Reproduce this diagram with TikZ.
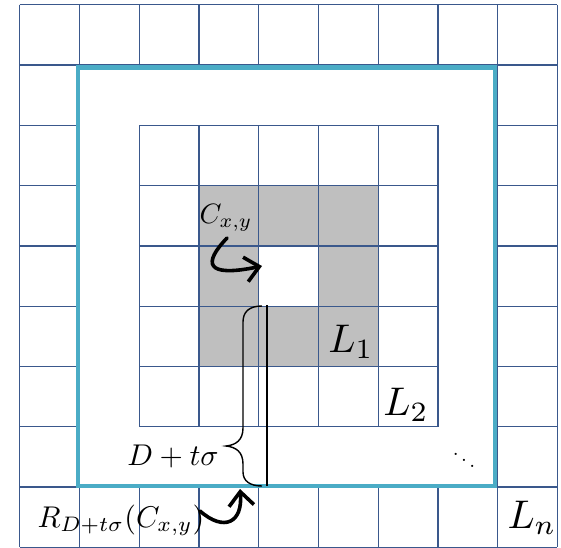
\documentclass[tikz,border=0pt]{standalone}
\usetikzlibrary{arrows.meta}
\definecolor{gridblue}{RGB}{58,88,140}
\definecolor{ringteal}{RGB}{75,172,198}
\definecolor{cellgray}{RGB}{191,191,191}
\begin{document}
\begin{tikzpicture}[x=1pt,y=-1pt,
  gridline/.style={draw=gridblue,line width=1.3pt},
  bigarrow/.style={line width=3.6pt,line cap=round,-{Straight Barb[length=14pt,width=25pt]}},
  lbl/.style={inner sep=0pt,text=black}]
\useasboundingbox[fill=white] (0,0) rectangle (561,547);
\begin{scope}[shift={(19.7,4.7)},x=59.75pt,y=-60.3pt]
  % outer ring
  \foreach \i in {0,1,8,9} \draw[gridline] (\i,0) -- (\i,9);
  \foreach \i in {2,...,7} {\draw[gridline] (\i,0) -- (\i,1); \draw[gridline] (\i,8) -- (\i,9);}
  \foreach \j in {0,1,8,9} \draw[gridline] (0,\j) -- (9,\j);
  \foreach \j in {2,...,7} {\draw[gridline] (0,\j) -- (1,\j); \draw[gridline] (8,\j) -- (9,\j);}
  % inner block
  \fill[cellgray] (3,3) rectangle (6,6);
  \fill[white] (4,4) rectangle (5,5);
  \foreach \i in {2,...,7} {\draw[gridline] (\i,2) -- (\i,7); \draw[gridline] (2,\i) -- (7,\i);}
\end{scope}
% teal boundary
\draw[ringteal,line width=4.2pt] (78,67.5) rectangle (495,486);
% labels
\node[lbl,scale=2.8] (Cl) at (226,218) {$C_{x,y}$};
\node[lbl,anchor=base,scale=4.0] (L1) at (351,352) {$L_1$};
\node[lbl,anchor=base,scale=4.0] (L2) at (406,415) {$L_2$};
\node[lbl,anchor=base,scale=4.0] (Ln) at (532,528) {$L_n$};
\node[lbl,scale=2.1] (dd) at (464,454) {$\ddots$};
\node[lbl,anchor=base,scale=3.0] (Dl) at (173,465) {$D+t\sigma$};
\node[lbl,anchor=base,scale=3.0] (Rl) at (121,527) {$R_{D+t\sigma}(C_{x,y})$};
% brace and radius line
\coordinate (btop) at (267,305);
\coordinate (bbot) at (267,486);
\draw[line width=1.6pt] (btop) -- (bbot);
\draw[line width=1.4pt] (262,306) .. controls (249,306) and (243,312) .. (243,322) -- (243,428)
  .. controls (243,440) and (236,445) .. (226,446)
  .. controls (236,447) and (243,452) .. (243,464) -- (243,472)
  .. controls (243,481) and (250,486) .. (262,486);
% arrows
\coordinate (ctail) at (227,238);
\coordinate (chead) at (262,266);
\draw[bigarrow] (ctail) .. controls (203,263) and (205,278) .. (chead);
\coordinate (rtail) at (200,511);
\coordinate (rhead) at (240,489);
\draw[bigarrow] (rtail) .. controls (224,532) and (243,523) .. (rhead);
\end{tikzpicture}
\end{document}
